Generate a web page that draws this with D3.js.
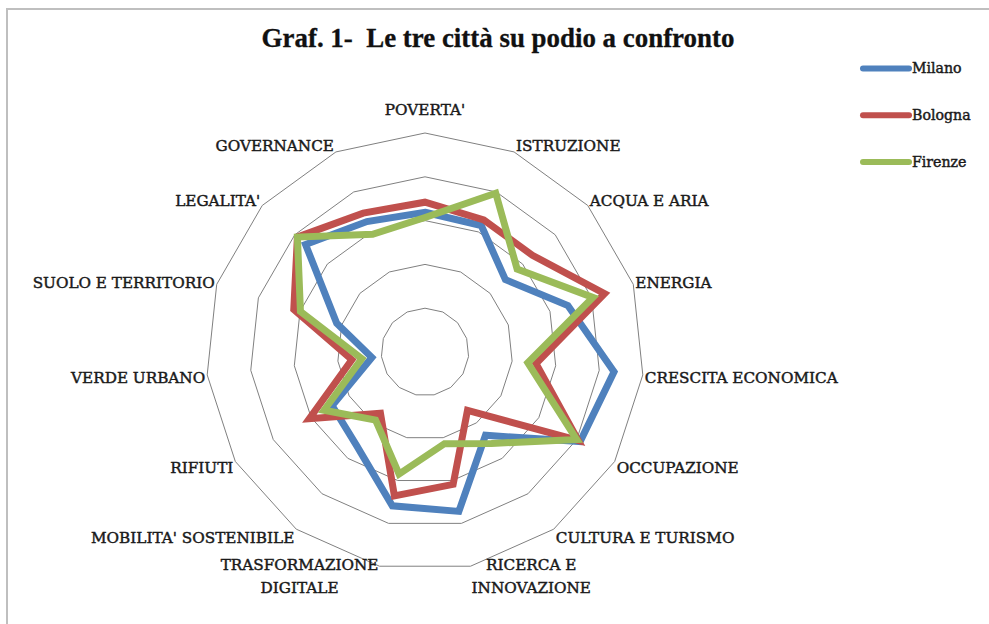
<!DOCTYPE html>
<html><head><meta charset="utf-8">
<script src="https://cdn.jsdelivr.net/npm/d3@7"></script>
<style>html,body{margin:0;padding:0;background:#fff;} svg{display:block;}</style>
</head><body>
<svg id="chart" width="989" height="624"></svg>
<script>
const categories = ["POVERTA'", "ISTRUZIONE", "ACQUA E ARIA", "ENERGIA", "CRESCITA ECONOMICA", "OCCUPAZIONE", "CULTURA E TURISMO", "RICERCA E\nINNOVAZIONE", "TRASFORMAZIONE\nDIGITALE", "MOBILITA' SOSTENIBILE", "RIFIUTI", "VERDE URBANO", "SUOLO E TERRITORIO", "LEGALITA'", "GOVERNANCE"];
const milano  = [3.19, 3.16, 2.47, 3.43, 4.34, 4.09, 2.35, 3.72, 3.59, 2.65, 2.45, 1.22, 2.12, 3.67, 3.26];
const bologna = [3.42, 3.30, 3.30, 4.31, 2.55, 4.04, 1.65, 3.09, 3.36, 1.73, 3.05, 1.68, 3.15, 3.92, 3.47];
const firenze = [3.07, 3.97, 2.83, 4.03, 2.36, 4.00, 2.58, 2.14, 2.85, 1.92, 2.66, 1.45, 2.99, 3.92, 2.94];
const seriesNames = ["Milano", "Bologna", "Firenze"];
const seriesColors = ["#4F81BD", "#C0504D", "#9BBB59"];
const gridTicks = [1, 2, 3, 4, 5];
const titleText = "Graf. 1-  Le tre città su podio a confronto";

const series = [milano, bologna, firenze];
const svg = d3.select("#chart");
const cx = 425, cy = 352, R = 219;
const rScale = d3.scaleLinear().domain([0, 5]).range([0, R]);
const n = categories.length;
const angle = i => i * 2 * Math.PI / n;

svg.append("rect").attr("width", 989).attr("height", 624).attr("fill", "#fff");
svg.append("rect").attr("x", 7).attr("y", 9).attr("width", 1200).attr("height", 900)
  .attr("fill", "none").attr("stroke", "#bfbfbf").attr("stroke-width", 2);

const labelFont = "'DejaVu Serif', serif";
const probe = svg.append("text").attr("font-family", labelFont).attr("font-size", 100).text("CRESCITA ECONOMICA");
const labelSize = 100 * 193 / probe.node().getComputedTextLength();
probe.remove();
const titleFont = "'Liberation Serif', serif";
const probe2 = svg.append("text").attr("font-family", titleFont).attr("font-weight", "bold").attr("font-size", 100).style("white-space", "pre").text(titleText);
const titleSize = 100 * 473 / probe2.node().getComputedTextLength();
probe2.remove();

svg.append("text").attr("x", 498).attr("y", 47).attr("text-anchor", "middle")
  .attr("font-family", titleFont).attr("font-weight", "bold").attr("font-size", titleSize)
  .style("white-space", "pre").attr("fill", "#111").attr("stroke", "#111").attr("stroke-width", 0.3)
  .text(titleText);

const g = svg.append("g").attr("transform", `translate(${cx},${cy})`);

const gridLine = d3.lineRadial().angle((d, i) => angle(i)).radius(d => rScale(d)).curve(d3.curveLinearClosed);
g.selectAll(".grid").data(gridTicks).join("path").attr("class", "grid")
  .attr("d", t => gridLine(categories.map(() => t)))
  .attr("fill", "none").attr("stroke", "#808080").attr("stroke-width", 1);

g.selectAll(".series").data(series).join("path").attr("class", "series")
  .attr("d", d => gridLine(d))
  .attr("fill", "none").attr("stroke", (d, i) => seriesColors[i]).attr("stroke-width", 7)
  .attr("stroke-linejoin", "miter").attr("stroke-miterlimit", 3);

const lineH = 23;
categories.forEach((cat, i) => {
  const a = angle(i), s = Math.sin(a), c = Math.cos(a);
  const vx = cx + R * s, vy = cy - R * c;
  const lines = cat.split("\n");
  const t = svg.append("text").attr("font-family", labelFont).attr("font-size", labelSize)
    .attr("fill", "#1a1a1a").attr("stroke", "#1a1a1a").attr("stroke-width", 0.45);
  if (Math.abs(s) < 1e-6) {
    t.attr("text-anchor", "middle").attr("x", vx).attr("y", vy - 23).attr("dy", "0.35em").text(cat);
    return;
  }
  const yc = vy + 1.5 - 9 * c;
  if (lines.length === 1) {
    t.attr("text-anchor", s > 0 ? "start" : "end").attr("x", s > 0 ? vx + 2 : vx - 2)
      .attr("y", yc).attr("dy", "0.35em").text(cat);
  } else {
    const spans = t.selectAll("tspan").data(lines).join("tspan").text(d => d);
    const widths = spans.nodes().map(nd => nd.getComputedTextLength());
    const bw = d3.max(widths);
    const bx = s > 0 ? vx + 1 + bw / 2 : vx - 1 - bw / 2;
    const y0 = yc - (lines.length - 1) * lineH / 2;
    t.attr("text-anchor", "middle");
    spans.attr("x", bx).attr("y", (d, k) => y0 + k * lineH).attr("dy", "0.35em");
  }
});

const lg = svg.append("g");
seriesNames.forEach((name, i) => {
  const y = 68.5 + i * 46.7;
  lg.append("line").attr("x1", 863).attr("x2", 909).attr("y1", y).attr("y2", y)
    .attr("stroke", seriesColors[i]).attr("stroke-width", 6).attr("stroke-linecap", "round");
  lg.append("text").attr("x", 912).attr("y", y).attr("dy", "0.35em")
    .attr("font-family", labelFont).attr("font-size", labelSize * 0.93)
    .attr("fill", "#1a1a1a").attr("stroke", "#1a1a1a").attr("stroke-width", 0.45).text(name);
});
</script>
</body></html>
